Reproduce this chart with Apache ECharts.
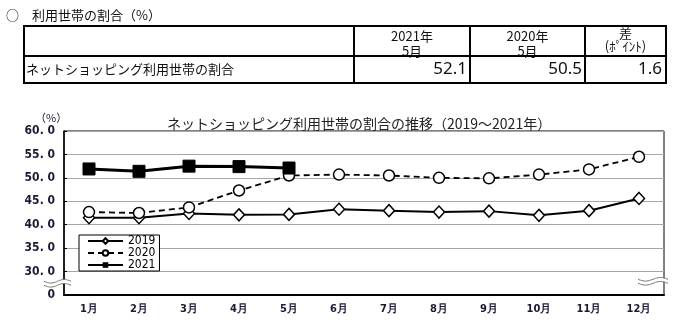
<!DOCTYPE html>
<html>
<head>
<meta charset="utf-8">
<script src="https://cdn.jsdelivr.net/npm/echarts@6/dist/echarts.min.js"></script>
<style>
  html, body { margin: 0; padding: 0; background: #fff; }
  #c { width: 689px; height: 330px; }
</style>
</head>
<body>
<div id="c"></div>
<script>
// Monthly share of households using online shopping (%)
const months = ['1月', '2月', '3月', '4月', '5月', '6月', '7月', '8月', '9月', '10月', '11月', '12月'];
const y2019 = [41.5, 41.5, 42.4, 42.1, 42.2, 43.3, 43.0, 42.7, 42.9, 42.0, 43.0, 45.6];
const y2020 = [42.7, 42.5, 43.7, 47.3, 50.5, 50.7, 50.5, 50.0, 49.9, 50.7, 51.8, 54.5];
const y2021 = [51.9, 51.4, 52.5, 52.4, 52.1];
const seriesNames = ['2019', '2020', '2021'];

// Summary table (May figures)
const sectionHeading = '○　利用世帯の割合（%）';
const tableRowLabel = 'ネットショッピング利用世帯の割合';
const tableHeadYears = ['2021年', '2020年'];
const tableHeadMonth = '5月';
const tableDiffHead = ['差', '(ﾎﾟｲﾝﾄ)'];
const tableValues = [y2021[4], y2020[4], +(y2021[4] - y2020[4]).toFixed(1)];

const chartTitle = 'ネットショッピング利用世帯の割合の推移（2019～2021年）';
const yUnit = '（%）';
const yMin = 25, yMax = 60, yStep = 5;   // lowest band is drawn as a broken axis labelled 0

const JP = "'Noto Sans CJK JP', 'Noto Sans', sans-serif";
const NARROW = "'Liberation Sans Narrow', 'DejaVu Sans Condensed', sans-serif";

const chart = echarts.init(document.getElementById('c'), null, { renderer: 'canvas' });

// ---- table graphics ----
const T = { x0: 24, x1: 354, x2: 470, x3: 585, x4: 666, y0: 26, y1: 56, y2: 83 };
function hline(x1, x2, y, w) { return { type: 'line', z: 60, shape: { x1, y1: y, x2, y2: y }, style: { stroke: '#000', lineWidth: w } }; }
function vline(x, y1, y2, w) { return { type: 'line', z: 60, shape: { x1: x, y1, x2: x, y2 }, style: { stroke: '#000', lineWidth: w } }; }
function txt(x, y, text, size, align, extra) {
  return { type: 'text', x, y, z: 50, style: Object.assign({ text, fontSize: size, fontFamily: JP, fill: '#111', align: align || 'left', verticalAlign: 'middle' }, extra || {}) };
}

const tableGraphics = [
  txt(6, 15, sectionHeading, 13, 'left'),
  txt((T.x1 + T.x2) / 2, 36, tableHeadYears[0], 13, 'center'),
  txt((T.x1 + T.x2) / 2, 51, tableHeadMonth, 13, 'center'),
  txt((T.x2 + T.x3) / 2, 36, tableHeadYears[1], 13, 'center'),
  txt((T.x2 + T.x3) / 2, 51, tableHeadMonth, 13, 'center'),
  txt((T.x3 + T.x4) / 2, 33, tableDiffHead[0], 13, 'center'),
  txt((T.x3 + T.x4) / 2, 46, tableDiffHead[1], 13, 'center', { fontFamily: "'Noto Sans CJK JP', 'DejaVu Sans', sans-serif" }),
  txt(26, 69, tableRowLabel, 13, 'left'),
  txt(T.x2 - 3, 69, tableValues[0].toFixed(1), 17, 'right', { fontFamily: "'Noto Sans', sans-serif" }),
  txt(T.x3 - 3, 69, tableValues[1].toFixed(1), 17, 'right', { fontFamily: "'Noto Sans', sans-serif" }),
  txt(T.x4 - 4, 69, tableValues[2].toFixed(1), 17, 'right', { fontFamily: "'Noto Sans', sans-serif" }),
  txt(35, 118, yUnit, 11, 'left', { fill: '#1a1a33' }),
  hline(T.x0 - 1, T.x4 + 1, T.y0, 2),
  hline(T.x0, T.x4, T.y1, 2),
  hline(T.x0 - 1, T.x4 + 1, T.y2, 2),
  vline(T.x0, T.y0, T.y2, 2),
  vline(T.x1, T.y0, T.y2, 2),
  vline(T.x2, T.y0, T.y2, 2),
  vline(T.x3, T.y0, T.y2, 2),
  vline(T.x4, T.y0, T.y2, 2)
];

const option = {
  animation: false,
  backgroundColor: '#fff',
  title: {
    text: chartTitle,
    left: 162, top: 112,
    textStyle: { fontSize: 14, fontWeight: 'normal', fontFamily: JP, color: '#222' }
  },
  grid: { left: 64, right: 25, top: 131, bottom: 35, show: true, borderColor: '#000', borderWidth: 1 },
  legend: {
    data: seriesNames,
    orient: 'vertical',
    left: 79, top: 235,
    itemWidth: 35, itemHeight: 7, itemGap: 0,
    padding: [0, 4, 0, 8],
    borderColor: '#000', borderWidth: 1,
    backgroundColor: '#fff',
    textStyle: { fontSize: 12, lineHeight: 12, fontFamily: NARROW, color: '#000' }
  },
  xAxis: {
    type: 'category',
    data: months,
    boundaryGap: true,
    axisLine: { lineStyle: { color: '#000', width: 2 } },
    axisTick: { inside: true, length: 4, lineStyle: { color: '#000' } },
    axisLabel: { fontSize: 11, fontWeight: 'bold', fontFamily: NARROW, color: '#1a1a33', margin: 9 },
    splitLine: { show: false }
  },
  yAxis: {
    type: 'value',
    min: yMin, max: yMax, interval: yStep,
    axisLine: { show: true, lineStyle: { color: '#000', width: 1.5 } },
    axisTick: { show: true, inside: true, length: 3, lineStyle: { color: '#000' } },
    axisLabel: {
      fontSize: 12, fontWeight: 'bold', fontFamily: NARROW, color: '#1a1a33', margin: 9,
      formatter: v => v === yMin ? '0' : v.toFixed(1).replace('.', '. ')
    },
    splitLine: { show: true, lineStyle: { color: '#a6a6a6', width: 1 } }
  },
  series: [
    {
      name: seriesNames[0], type: 'line', data: y2019,
      symbol: 'diamond', symbolSize: [11, 12],
      itemStyle: { color: '#fff', borderColor: '#000', borderWidth: 1.5 },
      lineStyle: { color: '#000', width: 2 }, z: 2
    },
    {
      name: seriesNames[1], type: 'line', data: y2020,
      symbol: 'circle', symbolSize: 11,
      itemStyle: { color: '#fff', borderColor: '#000', borderWidth: 1.5 },
      lineStyle: { color: '#000', width: 1.8, type: [6, 4] }, z: 3
    },
    {
      name: seriesNames[2], type: 'line', data: y2021,
      symbol: 'rect', symbolSize: 12,
      itemStyle: { color: '#000', borderColor: '#000' },
      lineStyle: { color: '#000', width: 3 }, z: 4
    }
  ],
  graphic: tableGraphics
};

chart.setOption(option);

// ---- axis-break marks (≈) across both vertical edges of the plot ----
function breakMark(x0, width, yc) {
  const n = 24, amp = 1.8, gap = 4;
  const top = [], bottom = [];
  for (let i = 0; i <= n; i++) {
    const x = x0 + width * i / n;
    const dy = amp * Math.sin(Math.PI * 2 * i / n);
    top.push([x, yc - gap / 2 + dy]);
    bottom.push([x, yc + gap / 2 + dy]);
  }
  return [
    { type: 'polygon', shape: { points: top.concat(bottom.slice().reverse()) }, style: { fill: '#fff' }, z: 100 },
    { type: 'polyline', shape: { points: top }, style: { stroke: '#777', lineWidth: 1, fill: null }, z: 101 },
    { type: 'polyline', shape: { points: bottom }, style: { stroke: '#777', lineWidth: 1, fill: null }, z: 101 }
  ];
}
const breakY = chart.convertToPixel({ gridIndex: 0 }, [0, (yMin + yMin + yStep) / 2])[1];
const firstX = chart.convertToPixel({ gridIndex: 0 }, [0, yMin])[0];
const secondX = chart.convertToPixel({ gridIndex: 0 }, [1, yMin])[0];
const lastX = chart.convertToPixel({ gridIndex: 0 }, [months.length - 1, yMin])[0];
const half = (secondX - firstX) / 2;
const leftX = firstX - half;
const rightX = lastX + half;
chart.setOption({
  graphic: tableGraphics.concat(breakMark(leftX - 20, 27, breakY), breakMark(rightX - 26, 30, breakY - 2))
});
</script>
</body>
</html>
